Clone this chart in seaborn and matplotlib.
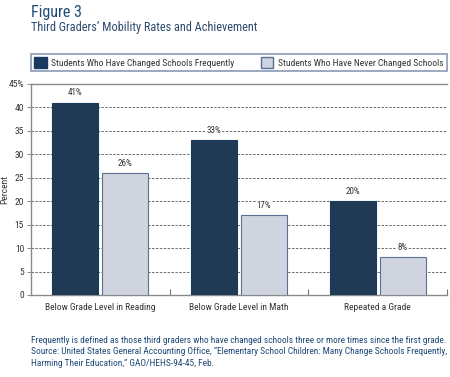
import matplotlib
matplotlib.use("Agg")
import matplotlib.pyplot as plt
import seaborn as sns
import pandas as pd
from matplotlib.patches import Patch
from matplotlib.ticker import FixedLocator

categories = ["Below Grade Level in Reading", "Below Grade Level in Math", "Repeated a Grade"]
series_names = ["Students Who Have Changed Schools Frequently", "Students Who Have Never Changed Schools"]
frequent = [41, 33, 20]
never = [26, 17, 8]
y_ticks = [0, 5, 10, 15, 20, 25, 30, 35, 40, 45]
y_tick_labels = ["0", "5", "10", "15", "20", "25", "30", "35", "40", "45%"]

dark = "#173a5e"
light = "#cdd3e2"
light_edge = "#5a7090"
text_gray = "#333333"
blue_text = "#1f4a78"

sns.set_theme(style="white")
plt.rcParams['font.family'] = ['Roboto Condensed', 'DejaVu Sans']

df = pd.DataFrame({
    "category": categories * 2,
    "series": [series_names[0]] * 3 + [series_names[1]] * 3,
    "value": frequent + never,
})

fig = plt.figure(figsize=(4.5, 3.77), dpi=100)
ax = fig.add_axes([31/450, 1-295/377, 416/450, 211/377])

sns.barplot(data=df, x="category", y="value", hue="series", order=categories,
            hue_order=series_names, palette=[dark, light], width=0.72, gap=0.08,
            ax=ax, legend=False, zorder=3)

for i, p in enumerate(ax.patches):
    if i < 3:
        p.set_edgecolor(dark)
    else:
        p.set_edgecolor(light_edge)
    p.set_linewidth(0.8)

for container in ax.containers:
    ax.bar_label(container, labels=[f"{v:.0f}%" for v in container.datavalues],
                 padding=4, fontsize=6.5, color=text_gray,
                 bbox=dict(facecolor="white", edgecolor="none", pad=0.5), zorder=4)

ax.set_ylim(0, 45)
ax.set_xlim(-0.5, 2.5)
ax.set_yticks(y_ticks)
ax.set_yticklabels(y_tick_labels, fontsize=6.8, color=text_gray)
for yv in y_ticks[1:-1]:
    ax.axhline(yv, color="#6a6a6a", linestyle=(0, (2.5, 1.5)), linewidth=0.7, zorder=1)

ax.set_xticks([0, 1, 2])
ax.set_xticklabels(categories, fontsize=6.8, color=text_gray)
ax.tick_params(axis="x", length=0, pad=6)
ax.xaxis.set_minor_locator(FixedLocator([0.5, 1.5, 2.5]))
ax.tick_params(axis="x", which="minor", direction="in", length=4, color="#777777", width=0.8, bottom=True)
ax.tick_params(axis="y", length=3, color="#777777", width=0.6, pad=2, left=True)

ax.set_xlabel("")
ax.set_ylabel("Percent", fontsize=6.8, color=text_gray)
ax.yaxis.set_label_coords(-0.052, 0.5)

for s in ["left", "top", "bottom"]:
    ax.spines[s].set_visible(True)
    ax.spines[s].set_color("#8a8a8a")
    ax.spines[s].set_linewidth(1.0)
ax.spines["right"].set_visible(False)

# Title
fig.text(31/450, 1-17/377, "Figure 3", fontsize=11.5, color=blue_text, ha="left", va="baseline")
fig.text(31/450, 1-31/377, "Third Graders’ Mobility Rates and Achievement", fontsize=8.8,
         color="#2c4a6e", ha="left", va="baseline")

# Legend
handles = [Patch(facecolor=dark, edgecolor=dark), Patch(facecolor=light, edgecolor=light_edge)]
leg = fig.legend(handles, series_names, loc="lower left",
                 bbox_to_anchor=(31/450, 1-71/377, 416/450, 22/377), mode="expand", ncol=2,
                 fontsize=6.8, frameon=True, fancybox=False, handlelength=1.3, handleheight=1.3,
                 borderaxespad=0, borderpad=0.35, handletextpad=0.5, columnspacing=1.5)
leg.get_frame().set_edgecolor("#7a8aa8")
leg.get_frame().set_linewidth(1.3)
for t in leg.get_texts():
    t.set_color(text_gray)

# Footer
footer = [
    "Frequently is defined as those third graders who have changed schools three or more times since the first grade.",
    "Source: United States General Accounting Office, “Elementary School Children: Many Change Schools Frequently,",
    "Harming Their Education,” GAO/HEHS-94-45, Feb.",
]
for k, line in enumerate(footer):
    fig.text(31/450, 1-(343 + k*11.5)/377, line, fontsize=6.75, color=blue_text, ha="left", va="baseline")

fig.savefig("out.png", dpi=100, facecolor="white")
